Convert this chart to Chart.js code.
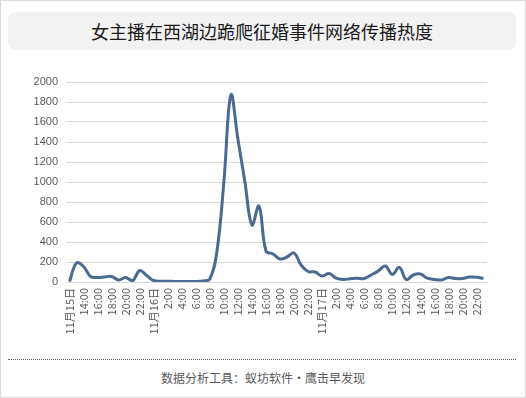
<!DOCTYPE html>
<html>
<head>
<meta charset="utf-8">
<script src="https://cdn.jsdelivr.net/npm/chart.js@4/dist/chart.umd.min.js"></script>
<style>
  body { margin: 0; }
  #page {
    position: relative; width: 526px; height: 398px; box-sizing: border-box;
    border: 1px solid #d9d9d9; background: #fff; overflow: hidden;
    font-family: "Noto Sans CJK SC", sans-serif;
  }
  #title {
    position: absolute; left: 7px; top: 11px; width: 508px; height: 38px;
    background: #f2f2f2; border-radius: 8px; text-align: center;
    line-height: 38px; font-size: 18px; color: #1a1a1a;
  }
  #box { position: absolute; left: -1px; top: 61px; }
  #rule {
    position: absolute; left: 7px; top: 358px; width: 508px;
    border-top: 1px dotted #666;
  }
  #foot {
    position: absolute; left: 0; top: 368px; width: 524px; text-align: center;
    font-size: 12px; color: #595959;
  }
</style>
</head>
<body>
<div id="page">
  <div id="title">女主播在西湖边跪爬征婚事件网络传播热度</div>
  <div id="box"><canvas id="heat" width="526" height="283"></canvas></div>
  <div id="rule"></div>
  <div id="foot">数据分析工具：蚁坊软件·鹰击早发现</div>
</div>
<script>
// hourly, from 11/15 12:00 to 11/17 23:00
var days = ['11月15日', '11月16日', '11月17日'];
var firstHour = 12;

var heat = [
  5, 190, 155, 55, 45, 50, 55, 20, 45, 15, 115, 65,
  15, 8, 8, 5, 5, 5, 5, 10, 30, 300, 1000, 1870,
  1430, 1000, 570, 760, 310, 280, 230, 250, 290, 170, 105, 100,
  60, 85, 38, 25, 33, 38, 35, 70, 110, 160, 76, 146,
  25, 70, 80, 38, 25, 20, 45, 35, 35, 50, 48, 35
];

var yTicks = [0, 200, 400, 600, 800, 1000, 1200, 1400, 1600, 1800, 2000];

var labels = [];
for (var d = 0; d < days.length; d++) {
  for (var h = (d === 0 ? firstHour : 0); h < 24; h++) {
    labels.push(h === 0 || (d === 0 && h === firstHour) ? days[d] : h + ':00');
  }
}

var tickFont = { family: 'Noto Sans CJK SC', size: 11 };

new Chart(document.getElementById('heat').getContext('2d'), {
  type: 'line',
  data: {
    labels: labels,
    datasets: [{
      data: heat,
      borderColor: '#4a6a91',
      borderWidth: 3,
      pointRadius: 0,
      tension: 0.4,
      fill: false
    }]
  },
  options: {
    responsive: false,
    animation: false,
    layout: { padding: { top: 20, right: 39, left: 0, bottom: 0 } },
    plugins: { legend: { display: false }, tooltip: { enabled: false } },
    scales: {
      x: {
        offset: true,
        grid: { display: false, drawTicks: false },
        border: { display: true, color: '#d9d9d9' },
        ticks: {
          autoSkip: false,
          minRotation: 90,
          maxRotation: 90,
          padding: 6,
          color: '#595959',
          font: tickFont,
          callback: function (v, i) { return i % 2 === 0 ? labels[i] : ''; }
        },
        afterFit: function (s) { s.height = 63; }
      },
      y: {
        min: 0,
        max: 2000,
        afterBuildTicks: function (s) { s.ticks = yTicks.map(function (v) { return { value: v }; }); },
        grid: { color: '#d9d9d9', drawTicks: false },
        border: { display: false },
        ticks: {
          padding: 8,
          color: '#595959',
          font: { family: 'Liberation Sans', size: 11 },
          callback: function (v) { return String(v); }
        },
        afterFit: function (s) { s.width = 66; }
      }
    }
  }
});
</script>
</body>
</html>
